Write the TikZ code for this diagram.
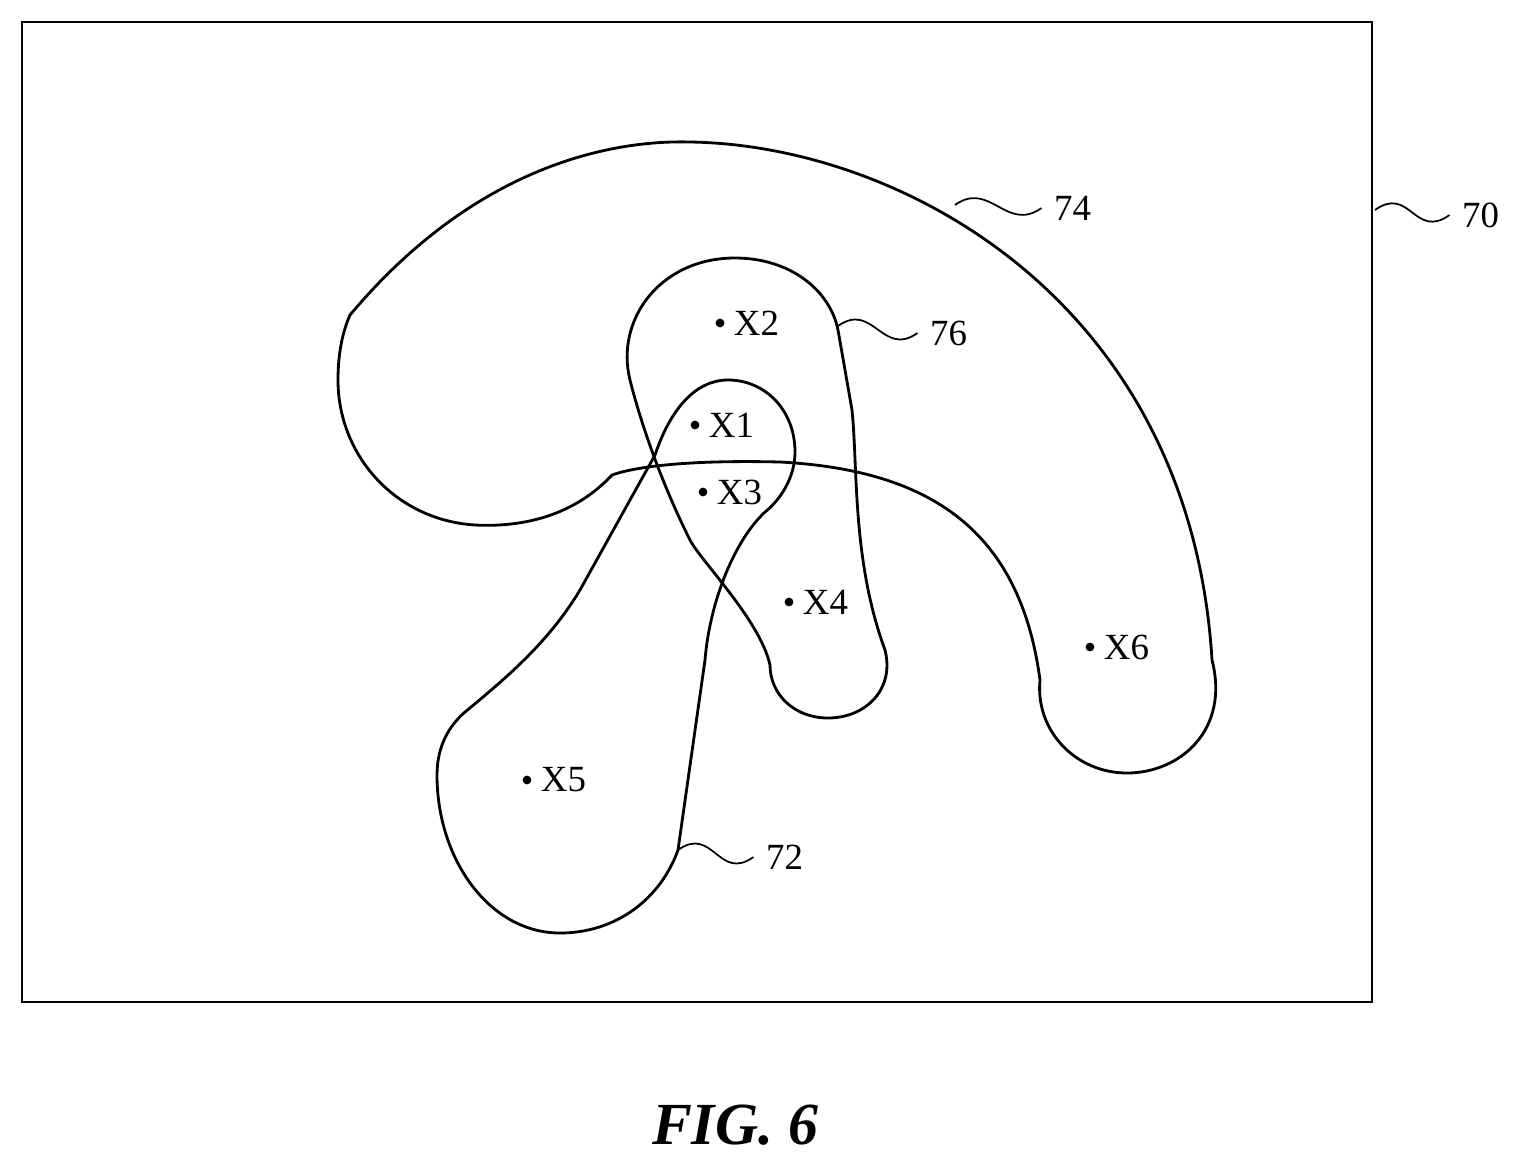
\documentclass[tikz,border=0pt]{standalone}
\usepackage{fontspec}
\setmainfont{Liberation Serif}
\tikzset{
  region/.style={line width=1.6pt, line join=round},
  pt/.style={circle, fill=black, inner sep=0pt, minimum size=5pt},
  ptlabel/.style={right=4pt, font=\fontsize{21}{24}\selectfont, inner sep=1pt},
  reflabel/.style={anchor=west, font=\fontsize{21}{24}\selectfont, inner sep=1pt},
  lead/.style={line width=1pt}
}
\begin{document}
\begin{tikzpicture}[x=0.02cm, y=-0.02cm]
  \useasboundingbox (0,0) rectangle (1528,1164);
  \draw[line width=1.5pt] (22,22) rectangle (1372,1002);

  % region 74
  \draw[region] (350,315) .. controls (480,160) and (620,140) .. (690,142)
    .. controls (900,145) and (1190,300) .. (1212,660)
    .. controls (1230,730) and (1180,773) .. (1127,773)
    .. controls (1075,773) and (1035,730) .. (1040,680)
    .. controls (1020,530) and (930,470) .. (780,462)
    .. controls (700,460) and (640,465) .. (612,475)
    .. controls (570,520) and (515,527) .. (475,525)
    .. controls (395,520) and (338,455) .. (338,380)
    .. controls (338,355) and (342,333) .. (350,315) -- cycle;

  % region 76
  \draw[region] (630,380) .. controls (615,320) and (660,258) .. (735,258)
    .. controls (790,258) and (830,290) .. (838,330)
    -- (852,410) .. controls (858,470) and (852,560) .. (885,650)
    .. controls (895,690) and (865,718) .. (828,718)
    .. controls (795,718) and (770,695) .. (770,665)
    .. controls (760,620) and (700,560) .. (690,540)
    .. controls (660,480) and (640,420) .. (630,380) -- cycle;

  % region 72
  \draw[region] (465,712) .. controls (510,675) and (550,640) .. (580,590)
    -- (655,455) .. controls (670,410) and (695,380) .. (728,380)
    .. controls (765,380) and (795,410) .. (795,452)
    .. controls (795,478) and (780,500) .. (765,512)
    .. controls (735,540) and (710,600) .. (705,660)
    -- (678,850) .. controls (660,900) and (615,933) .. (560,933)
    .. controls (490,933) and (437,860) .. (437,775)
    .. controls (437,745) and (450,725) .. (465,712) -- cycle;

  % points
  \node[pt] (x1) at (695,425) {}; \node[ptlabel] at (x1.east) {X1};
  \node[pt] (x2) at (720,323) {}; \node[ptlabel] at (x2.east) {X2};
  \node[pt] (x3) at (703,492) {}; \node[ptlabel] at (x3.east) {X3};
  \node[pt] (x4) at (789,602) {}; \node[ptlabel] at (x4.east) {X4};
  \node[pt] (x5) at (527,780) {}; \node[ptlabel] at (x5.east) {X5};
  \node[pt] (x6) at (1090,647) {}; \node[ptlabel] at (x6.east) {X6};

  % reference numerals
  \coordinate (e70) at (1375,210);
  \node[reflabel] (n70) at (1460,215) {70};
  \coordinate (e74) at (955,205);
  \node[reflabel] (n74) at (1052,208) {74};
  \coordinate (e76) at (838,326);
  \node[reflabel] (n76) at (928,333) {76};
  \coordinate (e72) at (678,850);
  \node[reflabel] (n72) at (764,857) {72};
  \foreach \r in {70,74,76,72}
    \draw[lead] (e\r) .. controls +(35,-25) and +(-35,25) .. ([xshift=-6pt]n\r.west);

  \node[font=\bfseries\itshape\fontsize{34}{40}\selectfont] (cap) at (735,1125) {FIG. 6};
\end{tikzpicture}
\end{document}
